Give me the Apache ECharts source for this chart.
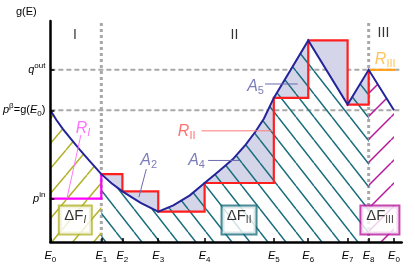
<!DOCTYPE html>
<html><head><meta charset="utf-8">
<script src="https://cdn.jsdelivr.net/npm/echarts@6/dist/echarts.min.js"></script>
<style>html,body{margin:0;padding:0;background:#fff}#c{width:415px;height:264px}</style>
</head><body><div id="c"></div>
<script>
// ---- data ----
const ePos = [0, 14.5, 20.5, 30.7, 43.9, 63.6, 73.4, 84.6, 90.6, 97.8];
const eLabels = ['0', '1', '2', '3', '4', '5', '6', '7', '8', '0'];
const curveX = [0, 1.68, 3.64, 5.89, 8.41, 11.21, 14.5, 17.4, 20.5, 25.7, 30.7, 35.0, 39.7, 43.9, 48.1, 51.9, 55.6, 58.4, 60.8, 63.6, 73.4, 84.6, 90.6, 97.8];
const curveY = [59.6, 55.3, 51.0, 46.6, 41.7, 36.6, 30.7, 26.6, 22.9, 17.7, 13.7, 16.6, 21.1, 26.7, 32.2, 37.4, 44.1, 50.0, 55.9, 65.2, 91.2, 62.2, 77.9, 59.6];
const redLevels = [30.7, 22.9, 13.7, 26.7, 65.2, 91.2, 62.2, 77.9];
const yTickVals = [19.6, 59.6, 77.9];
const yTickLabels = ['{i|p}{sup|in}', '{i|p}{sup|β}{n|=g(}{i|E}{s|0}{n|)}', '{i|q}{sup|out}'];
const pIn = 19.6, pBeta = 59.6, qOut = 77.9;
const rIIIEnd = 98.1;

// ---- derived ----
const curve = curveX.map((x, i) => [x, curveY[i]]);
const seg = (a, b) => curve.filter(p => p[0] >= a - 1e-9 && p[0] <= b + 1e-9);
const redPts = [];
for (let i = 1; i <= 7; i++) {
  redPts.push([ePos[i], redLevels[i - 1]]);
  redPts.push([ePos[i + 1], redLevels[i - 1]]);
}
redPts.push([ePos[8], redLevels[7]]);
const lavPts = seg(ePos[1], ePos[8]).concat(redPts.slice().reverse());

function hatch(color, W, H, dir, lw) {
  const c = document.createElement('canvas'); c.width = W; c.height = H;
  const g = c.getContext('2d'); g.strokeStyle = color; g.lineWidth = lw;
  g.beginPath();
  for (let k = -1; k <= 1; k++) {
    if (dir > 0) { g.moveTo(k * W, 0); g.lineTo(k * W + W, H); }
    else { g.moveTo(k * W, H); g.lineTo(k * W + W, 0); }
  }
  g.stroke();
  return c;
}
const FONT = 'Liberation Sans, Arial, sans-serif';
const olivePat = { image: hatch('#b3b32c', 21, 25, -1, 1.5), repeat: 'repeat', x: 45, y: 0 };
const tealPat = { image: hatch('#1b6e7d', 18, 23, 1, 1.5), repeat: 'repeat', x: 368, y: 117 };
const magPat = { image: hatch('#b8189e', 23, 23, -1, 1.5), repeat: 'repeat', x: 368, y: 94 };

function lineS(data, color, width, z, extra) {
  return Object.assign({ type: 'line', data: data, symbol: 'none', silent: true, z: z,
    lineStyle: { color: color, width: width, join: 'miter' } }, extra || {});
}
function dashS(data, w, dash) {
  return lineS(data, '#a8a8a8', w, 0, { lineStyle: { color: '#a8a8a8', width: w, type: dash } });
}
function areaS(data, pat) {
  return { type: 'line', data: data, symbol: 'none', silent: true, z: 2,
    lineStyle: { opacity: 0, width: 0 }, areaStyle: { color: pat, opacity: 1 } };
}

const subRich = (c, big, small, italicSub) => ({
  m: { fontSize: big, fontStyle: 'italic', color: c, fontFamily: FONT, lineHeight: big + 4 },
  u: { fontSize: big, color: c, fontFamily: FONT, lineHeight: big + 4 },
  s: { fontSize: small, color: c, fontFamily: FONT, fontStyle: italicSub ? 'italic' : 'normal', verticalAlign: 'bottom', lineHeight: small + 2 }
});
function note(pos, text, rich, extraLabel) {
  return { value: pos, label: Object.assign({ show: true, position: 'inside', formatter: text, rich: rich }, extraLabel || {}) };
}
const boxLabel = (col, w) => ({ backgroundColor: '#fff', borderColor: col, borderWidth: 2, width: w, height: 27, align: 'center', verticalAlign: 'middle', lineHeight: 27 });

const notes = [
  note([7.0, 93.8], '{u|I}', subRich('#000', 14, 10)),
  note([52.4, 93.8], '{u|II}', subRich('#000', 14, 10)),
  note([94.8, 94.3], '{u|III}', subRich('#000', 14, 10)),
  note([28.0, 36.8], '{m|A}{s|2}', subRich('#5a5aa8', 16, 11)),
  note([41.6, 36.7], '{m|A}{s|4}', subRich('#5a5aa8', 16, 11)),
  note([58.4, 70.5], '{m|A}{s|5}', subRich('#5a5aa8', 16, 11)),
  note([38.8, 50.0], '{m|R}{s|II}', subRich('#ff4d4d', 16, 11)),
  note([9.3, 51.5], '{m|R}{s|I}', subRich('#ff4dff', 16, 11, true)),
  note([95.3, 82.6], '{m|R}{s|III}', subRich('#ffb433', 16, 11)),
  note([7.1, 9.9], '{u|ΔF}{s|I}', subRich('#000', 15, 10, true), boxLabel('#b3b32c', 31)),
  note([53.7, 9.9], '{u|ΔF}{s|II}', subRich('#000', 15, 10), boxLabel('#1b6e7d', 33)),
  note([93.8, 9.9], '{u|ΔF}{s|III}', subRich('#000', 15, 10), boxLabel('#b8189e', 37))
];

const axRich = {
  i: { fontSize: 11, fontStyle: 'italic', color: '#000', fontFamily: FONT, lineHeight: 16 },
  n: { fontSize: 11, color: '#000', fontFamily: FONT, lineHeight: 16 },
  s: { fontSize: 8, color: '#000', fontFamily: FONT, verticalAlign: 'bottom', lineHeight: 10 },
  sup: { fontSize: 8, color: '#000', fontFamily: FONT, verticalAlign: 'top', lineHeight: 10 }
};

const chart = echarts.init(document.getElementById('c'), null, { renderer: 'canvas' });
chart.setOption({
  animation: false,
  title: { text: 'g(E)', left: 11, top: 1, textStyle: { fontSize: 11, fontWeight: 'normal', color: '#000', fontFamily: FONT } },
  grid: { left: 45, right: 13.3, top: 21, bottom: 18.3 },
  xAxis: {
    type: 'value', min: 0, max: 100, z: 10,
    axisLine: { show: true, lineStyle: { color: '#000', width: 2.5 } },
    axisTick: { show: true, inside: true, length: 4, customValues: ePos, lineStyle: { color: '#000', width: 1.5 } },
    axisLabel: { customValues: ePos, margin: 6, showMinLabel: true, showMaxLabel: true,
      formatter: (v) => '{i|E}{s|' + eLabels[ePos.indexOf(v)] + '}', rich: axRich },
    splitLine: { show: false }
  },
  yAxis: {
    type: 'value', min: 0, max: 100, z: 10,
    axisLine: { show: true, lineStyle: { color: '#000', width: 2.5 } },
    axisTick: { show: true, inside: true, length: 4, customValues: yTickVals, lineStyle: { color: '#000', width: 1.5 } },
    axisLabel: { customValues: yTickVals, margin: 5,
      formatter: (v) => yTickLabels[yTickVals.indexOf(v)], rich: axRich },
    splitLine: { show: false }
  },
  series: [
    dashS([[0, qOut], [100, qOut]], 2, [5, 3]),
    dashS([[0, pBeta], [100, pBeta]], 2, [5, 3]),
    dashS([[ePos[1], 0], [ePos[1], 100]], 3, [3, 3]),
    dashS([[ePos[8], 0], [ePos[8], 100]], 3, [3, 3]),
    { type: 'custom', coordinateSystem: 'cartesian2d', data: [[0, 0]], z: 1, silent: true,
      renderItem: (params, api) => ({ type: 'polygon', shape: { points: lavPts.map(p => api.coord(p)) },
        style: { fill: '#d4d5e9', stroke: null } }) },
    areaS(seg(ePos[0], ePos[1]), olivePat),
    areaS(seg(ePos[1], ePos[8]), tealPat),
    areaS(seg(ePos[8], ePos[9]), magPat),
    lineS(redPts, '#ff1f1f', 2.2, 4),
    lineS([[0, pIn], [ePos[1], pIn], [ePos[1], curveY[curveX.indexOf(ePos[1])]]], '#ff00ff', 2.2, 4),
    lineS([[ePos[8], qOut], [rIIIEnd, qOut]], '#ffa01a', 2.2, 4),
    lineS(curve, '#24249a', 2, 5),
    // leader lines
    lineS([[27.3, 33.0], [25.2, 20.3]], '#6a6ab0', 1, 6),
    lineS([[44.9, 36.9], [53.8, 36.9]], '#6a6ab0', 1, 6),
    lineS([[61.1, 71.5], [70.4, 71.5]], '#6a6ab0', 1, 6),
    lineS([[43.0, 50.3], [63.1, 50.3]], '#ff7a7a', 1, 6),
    lineS([[8.7, 48.5], [4.7, 19.6]], '#ff77ff', 1, 6),
    { type: 'scatter', data: notes, symbolSize: 1, itemStyle: { color: 'rgba(0,0,0,0)' }, z: 8, silent: true }
  ]
});
</script></body></html>
